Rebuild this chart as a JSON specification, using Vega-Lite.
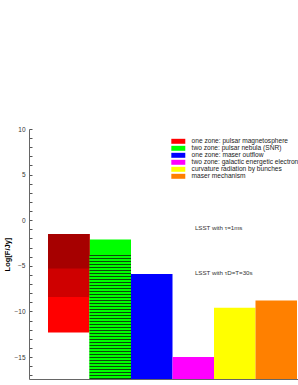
{
  "$schema": "https://vega.github.io/schema/vega-lite/v6.json",
  "width": 269,
  "height": 250,
  "autosize": {"type": "none"},
  "padding": {"left": 29, "top": 129, "right": 0, "bottom": 6},
  "config": {
    "view": {"stroke": null},
    "font": "Liberation Sans",
    "axis": {"grid": false}
  },
  "layer": [
    {
      "data": {"values": [
        {"name": "one zone: pulsar magnetosphere", "top": -1.5, "bottom": -12.3},
        {"name": "two zone: pulsar nebula (SNR)", "top": -2.1, "bottom": -17.4},
        {"name": "one zone: maser outflow", "top": -5.9, "bottom": -17.4},
        {"name": "two zone: galactic energetic electrons", "top": -15.0, "bottom": -17.4},
        {"name": "curvature radiation by bunches", "top": -9.6, "bottom": -17.4},
        {"name": "maser mechanism", "top": -8.8, "bottom": -17.4}
      ]},
      "mark": {"type": "bar", "width": {"band": 1}},
      "encoding": {
        "x": {"field": "name", "type": "nominal", "sort": null,
          "scale": {"domain": ["one zone: pulsar magnetosphere", "two zone: pulsar nebula (SNR)", "one zone: maser outflow", "two zone: galactic energetic electrons", "curvature radiation by bunches", "maser mechanism"],
            "paddingInner": 0, "paddingOuter": 0.241, "align": 0.95},
          "axis": {"labels": false, "ticks": false, "title": null, "domainColor": "#666", "domainWidth": 1}},
        "y": {"field": "top", "type": "quantitative",
          "scale": {"domain": [-17.4, 10], "nice": false, "zero": false},
          "axis": {"values": [-17,-16,-15,-14,-13,-12,-11,-10,-9,-8,-7,-6,-5,-4,-3,-2,-1,0,1,2,3,4,5,6,7,8,9,10],
            "tickCount": 100, "format": "d",
            "labelExpr": "datum.value % 5 === 0 ? datum.label : ''", "labelOverlap": false,
            "tickSize": -3, "tickColor": "#555", "domainColor": "#666", "labelPadding": 7,
            "labelFontSize": 6.5, "labelColor": "#333", "labelFont": "Liberation Sans",
            "title": "Log[F/Jy]", "titleFontSize": 7.5, "titleFontWeight": "bold", "titleColor": "#000",
            "titleFont": "Liberation Sans", "titlePadding": 2}},
        "y2": {"field": "bottom"},
        "color": {"field": "name", "type": "nominal", "sort": null,
          "scale": {"domain": ["one zone: pulsar magnetosphere", "two zone: pulsar nebula (SNR)", "one zone: maser outflow", "two zone: galactic energetic electrons", "curvature radiation by bunches", "maser mechanism"],
            "range": ["#ff0000", "#00ff00", "#0000ff", "#ff00ff", "#ffff00", "#ff8000"]},
          "legend": {"orient": "none", "legendX": 146, "legendY": 9, "title": null, "padding": 0,
            "symbolType": "M-2.33,-0.83L2.33,-0.83L2.33,0.83L-2.33,0.83Z", "symbolSize": 36, "symbolStrokeWidth": 0,
            "labelFontSize": 6.6, "labelFont": "Liberation Sans", "labelColor": "#222", "labelOffset": 10,
            "labelLimit": 300, "rowPadding": 0}}
      }
    },
    {
      "data": {"values": [{"name": "one zone: pulsar magnetosphere", "top": -1.5, "bottom": -8.4}]},
      "mark": {"type": "bar", "width": {"band": 1}, "color": "#cf0000"},
      "encoding": {
        "x": {"field": "name", "type": "nominal"},
        "y": {"field": "top", "type": "quantitative"},
        "y2": {"field": "bottom"}
      }
    },
    {
      "data": {"values": [{"name": "one zone: pulsar magnetosphere", "top": -1.5, "bottom": -5.3}]},
      "mark": {"type": "bar", "width": {"band": 1}, "color": "#a60000"},
      "encoding": {
        "x": {"field": "name", "type": "nominal"},
        "y": {"field": "top", "type": "quantitative"},
        "y2": {"field": "bottom"}
      }
    },
    {
      "data": {"values": [{"name": "two zone: pulsar nebula (SNR)", "top": -3.81, "bottom": -17.4}]},
      "mark": {"type": "bar", "width": {"band": 1},
        "color": {"gradient": "linear", "x1": 0, "y1": 0, "x2": 0, "y2": 1, "stops": [
          {"offset": 0, "color": "#0b4a0b"}, {"offset": 0.0081, "color": "#0b4a0b"}, {"offset": 0.0081, "color": "#00ff00"}, {"offset": 0.0242, "color": "#00ff00"},
          {"offset": 0.0242, "color": "#0b4a0b"}, {"offset": 0.0323, "color": "#0b4a0b"}, {"offset": 0.0323, "color": "#00ff00"}, {"offset": 0.0484, "color": "#00ff00"},
          {"offset": 0.0484, "color": "#0b4a0b"}, {"offset": 0.0565, "color": "#0b4a0b"}, {"offset": 0.0565, "color": "#00ff00"}, {"offset": 0.0726, "color": "#00ff00"},
          {"offset": 0.0726, "color": "#0b4a0b"}, {"offset": 0.0806, "color": "#0b4a0b"}, {"offset": 0.0806, "color": "#00ff00"}, {"offset": 0.0968, "color": "#00ff00"},
          {"offset": 0.0968, "color": "#0b4a0b"}, {"offset": 0.1048, "color": "#0b4a0b"}, {"offset": 0.1048, "color": "#00ff00"}, {"offset": 0.1210, "color": "#00ff00"},
          {"offset": 0.1210, "color": "#0b4a0b"}, {"offset": 0.1290, "color": "#0b4a0b"}, {"offset": 0.1290, "color": "#00ff00"}, {"offset": 0.1452, "color": "#00ff00"},
          {"offset": 0.1452, "color": "#0b4a0b"}, {"offset": 0.1532, "color": "#0b4a0b"}, {"offset": 0.1532, "color": "#00ff00"}, {"offset": 0.1694, "color": "#00ff00"},
          {"offset": 0.1694, "color": "#0b4a0b"}, {"offset": 0.1774, "color": "#0b4a0b"}, {"offset": 0.1774, "color": "#00ff00"}, {"offset": 0.1935, "color": "#00ff00"},
          {"offset": 0.1935, "color": "#0b4a0b"}, {"offset": 0.2016, "color": "#0b4a0b"}, {"offset": 0.2016, "color": "#00ff00"}, {"offset": 0.2177, "color": "#00ff00"},
          {"offset": 0.2177, "color": "#0b4a0b"}, {"offset": 0.2258, "color": "#0b4a0b"}, {"offset": 0.2258, "color": "#00ff00"}, {"offset": 0.2419, "color": "#00ff00"},
          {"offset": 0.2419, "color": "#0b4a0b"}, {"offset": 0.2500, "color": "#0b4a0b"}, {"offset": 0.2500, "color": "#00ff00"}, {"offset": 0.2661, "color": "#00ff00"},
          {"offset": 0.2661, "color": "#0b4a0b"}, {"offset": 0.2742, "color": "#0b4a0b"}, {"offset": 0.2742, "color": "#00ff00"}, {"offset": 0.2903, "color": "#00ff00"},
          {"offset": 0.2903, "color": "#0b4a0b"}, {"offset": 0.2984, "color": "#0b4a0b"}, {"offset": 0.2984, "color": "#00ff00"}, {"offset": 0.3145, "color": "#00ff00"},
          {"offset": 0.3145, "color": "#0b4a0b"}, {"offset": 0.3226, "color": "#0b4a0b"}, {"offset": 0.3226, "color": "#00ff00"}, {"offset": 0.3387, "color": "#00ff00"},
          {"offset": 0.3387, "color": "#0b4a0b"}, {"offset": 0.3468, "color": "#0b4a0b"}, {"offset": 0.3468, "color": "#00ff00"}, {"offset": 0.3629, "color": "#00ff00"},
          {"offset": 0.3629, "color": "#0b4a0b"}, {"offset": 0.3710, "color": "#0b4a0b"}, {"offset": 0.3710, "color": "#00ff00"}, {"offset": 0.3871, "color": "#00ff00"},
          {"offset": 0.3871, "color": "#0b4a0b"}, {"offset": 0.3952, "color": "#0b4a0b"}, {"offset": 0.3952, "color": "#00ff00"}, {"offset": 0.4113, "color": "#00ff00"},
          {"offset": 0.4113, "color": "#0b4a0b"}, {"offset": 0.4194, "color": "#0b4a0b"}, {"offset": 0.4194, "color": "#00ff00"}, {"offset": 0.4355, "color": "#00ff00"},
          {"offset": 0.4355, "color": "#0b4a0b"}, {"offset": 0.4435, "color": "#0b4a0b"}, {"offset": 0.4435, "color": "#00ff00"}, {"offset": 0.4597, "color": "#00ff00"},
          {"offset": 0.4597, "color": "#0b4a0b"}, {"offset": 0.4677, "color": "#0b4a0b"}, {"offset": 0.4677, "color": "#00ff00"}, {"offset": 0.4839, "color": "#00ff00"},
          {"offset": 0.4839, "color": "#0b4a0b"}, {"offset": 0.4919, "color": "#0b4a0b"}, {"offset": 0.4919, "color": "#00ff00"}, {"offset": 0.5081, "color": "#00ff00"},
          {"offset": 0.5081, "color": "#0b4a0b"}, {"offset": 0.5161, "color": "#0b4a0b"}, {"offset": 0.5161, "color": "#00ff00"}, {"offset": 0.5323, "color": "#00ff00"},
          {"offset": 0.5323, "color": "#0b4a0b"}, {"offset": 0.5403, "color": "#0b4a0b"}, {"offset": 0.5403, "color": "#00ff00"}, {"offset": 0.5565, "color": "#00ff00"},
          {"offset": 0.5565, "color": "#0b4a0b"}, {"offset": 0.5645, "color": "#0b4a0b"}, {"offset": 0.5645, "color": "#00ff00"}, {"offset": 0.5806, "color": "#00ff00"},
          {"offset": 0.5806, "color": "#0b4a0b"}, {"offset": 0.5887, "color": "#0b4a0b"}, {"offset": 0.5887, "color": "#00ff00"}, {"offset": 0.6048, "color": "#00ff00"},
          {"offset": 0.6048, "color": "#0b4a0b"}, {"offset": 0.6129, "color": "#0b4a0b"}, {"offset": 0.6129, "color": "#00ff00"}, {"offset": 0.6290, "color": "#00ff00"},
          {"offset": 0.6290, "color": "#0b4a0b"}, {"offset": 0.6371, "color": "#0b4a0b"}, {"offset": 0.6371, "color": "#00ff00"}, {"offset": 0.6532, "color": "#00ff00"},
          {"offset": 0.6532, "color": "#0b4a0b"}, {"offset": 0.6613, "color": "#0b4a0b"}, {"offset": 0.6613, "color": "#00ff00"}, {"offset": 0.6774, "color": "#00ff00"},
          {"offset": 0.6774, "color": "#0b4a0b"}, {"offset": 0.6855, "color": "#0b4a0b"}, {"offset": 0.6855, "color": "#00ff00"}, {"offset": 0.7016, "color": "#00ff00"},
          {"offset": 0.7016, "color": "#0b4a0b"}, {"offset": 0.7097, "color": "#0b4a0b"}, {"offset": 0.7097, "color": "#00ff00"}, {"offset": 0.7258, "color": "#00ff00"},
          {"offset": 0.7258, "color": "#0b4a0b"}, {"offset": 0.7339, "color": "#0b4a0b"}, {"offset": 0.7339, "color": "#00ff00"}, {"offset": 0.7500, "color": "#00ff00"},
          {"offset": 0.7500, "color": "#0b4a0b"}, {"offset": 0.7581, "color": "#0b4a0b"}, {"offset": 0.7581, "color": "#00ff00"}, {"offset": 0.7742, "color": "#00ff00"},
          {"offset": 0.7742, "color": "#0b4a0b"}, {"offset": 0.7823, "color": "#0b4a0b"}, {"offset": 0.7823, "color": "#00ff00"}, {"offset": 0.7984, "color": "#00ff00"},
          {"offset": 0.7984, "color": "#0b4a0b"}, {"offset": 0.8065, "color": "#0b4a0b"}, {"offset": 0.8065, "color": "#00ff00"}, {"offset": 0.8226, "color": "#00ff00"},
          {"offset": 0.8226, "color": "#0b4a0b"}, {"offset": 0.8306, "color": "#0b4a0b"}, {"offset": 0.8306, "color": "#00ff00"}, {"offset": 0.8468, "color": "#00ff00"},
          {"offset": 0.8468, "color": "#0b4a0b"}, {"offset": 0.8548, "color": "#0b4a0b"}, {"offset": 0.8548, "color": "#00ff00"}, {"offset": 0.8710, "color": "#00ff00"},
          {"offset": 0.8710, "color": "#0b4a0b"}, {"offset": 0.8790, "color": "#0b4a0b"}, {"offset": 0.8790, "color": "#00ff00"}, {"offset": 0.8952, "color": "#00ff00"},
          {"offset": 0.8952, "color": "#0b4a0b"}, {"offset": 0.9032, "color": "#0b4a0b"}, {"offset": 0.9032, "color": "#00ff00"}, {"offset": 0.9194, "color": "#00ff00"},
          {"offset": 0.9194, "color": "#0b4a0b"}, {"offset": 0.9274, "color": "#0b4a0b"}, {"offset": 0.9274, "color": "#00ff00"}, {"offset": 0.9435, "color": "#00ff00"},
          {"offset": 0.9435, "color": "#0b4a0b"}, {"offset": 0.9516, "color": "#0b4a0b"}, {"offset": 0.9516, "color": "#00ff00"}, {"offset": 0.9677, "color": "#00ff00"},
          {"offset": 0.9677, "color": "#0b4a0b"}, {"offset": 0.9758, "color": "#0b4a0b"}, {"offset": 0.9758, "color": "#00ff00"}, {"offset": 0.9919, "color": "#00ff00"},
          {"offset": 0.9919, "color": "#0b4a0b"}, {"offset": 1, "color": "#0b4a0b"}
        ]}},
      "encoding": {
        "x": {"field": "name", "type": "nominal"},
        "y": {"field": "top", "type": "quantitative"},
        "y2": {"field": "bottom"}
      }
    },
    {
      "mark": {"type": "rule", "color": "#555", "strokeWidth": 1},
      "encoding": {"y": {"datum": -2, "type": "quantitative"}}
    },
    {
      "mark": {"type": "rule", "color": "#666", "strokeWidth": 1},
      "encoding": {"y": {"datum": 10, "type": "quantitative"}}
    },
    {
      "data": {"values": [
        {"label": "LSST with τ=1ms", "anchor": "two zone: galactic energetic electrons", "v": -0.9},
        {"label": "LSST with τD=T=30s", "anchor": "two zone: galactic energetic electrons", "v": -5.8}
      ]},
      "mark": {"type": "text", "align": "left", "baseline": "middle", "fontSize": 6.2, "color": "#333", "font": "Liberation Sans"},
      "encoding": {
        "x": {"field": "anchor", "type": "nominal", "bandPosition": 0.54},
        "y": {"field": "v", "type": "quantitative"},
        "text": {"field": "label"}
      }
    }
  ]
}
